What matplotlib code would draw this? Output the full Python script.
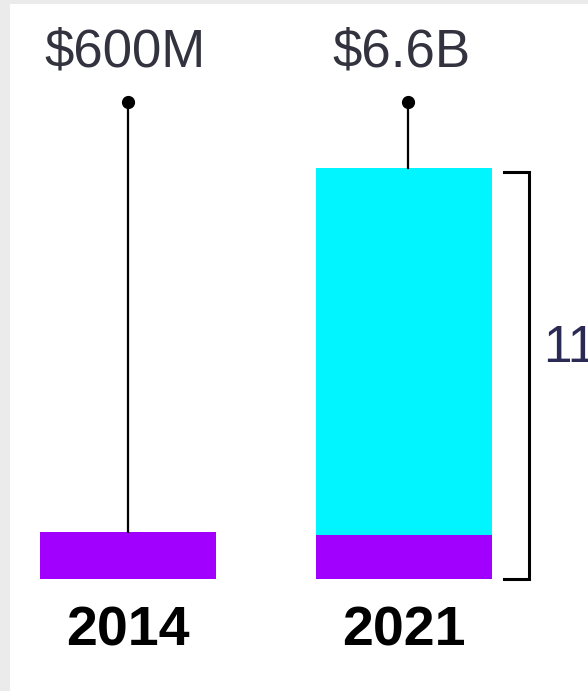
import matplotlib.pyplot as plt

# values
years = ["2014", "2021"]
value_labels = ["$600M", "$6.6B"]
base_part = [0.6, 0.56]      # purple segment
growth_part = [0.0, 4.69]    # cyan segment
dot_level = 6.09
growth_label = "11x"

purple = "#A100FF"
cyan = "#00F5FF"
txt = "#333340"

fig = plt.figure(figsize=(5.88, 6.91), dpi=100)
fig.patch.set_facecolor("#EBEBEB")
ax = fig.add_axes([10 / 588, 0, 578 / 588, 687 / 691])
ax.set_facecolor("white")

x = [0, 1]
ax.bar(x, base_part, width=0.638, color=purple)
ax.bar(x, growth_part, bottom=base_part, width=0.638, color=cyan)

for i in x:
    top = base_part[i] + growth_part[i]
    xs = i + (0.0 if i == 0 else 0.015)
    ax.plot([xs, xs], [top, dot_level], color="black", lw=1.6, zorder=3)
    ax.plot(xs, dot_level, "o", color="black", ms=8.5, zorder=4)
    ax.text(i - 0.01, 6.55, value_labels[i], ha="center", va="baseline",
            fontsize=38, color=txt, family="Liberation Sans")
    ax.text(i, -0.843, years[i], ha="center", va="baseline",
            fontsize=40, fontweight="bold", color="black", family="Liberation Sans")

# bracket along the 2021 bar
total21 = base_part[1] + growth_part[1]
bx, bx0 = 1.453, 1.362
ax.plot([bx0, bx, bx, bx0], [total21 - 0.05, total21 - 0.05, 0, 0],
        color="black", lw=2.2, solid_joinstyle="miter")
ax.text(1.505, 2.94, growth_label, ha="left", va="center",
        fontsize=37, color="#2a2a55", family="Liberation Sans", clip_on=False)

ax.set_xlim(-0.4275, 1.6667)
ax.set_ylim(-1.430, 7.343)
for s in ax.spines.values():
    s.set_visible(False)
ax.set_xticks([])
ax.set_yticks([])

fig.savefig("out.png", dpi=100, facecolor=fig.get_facecolor())
